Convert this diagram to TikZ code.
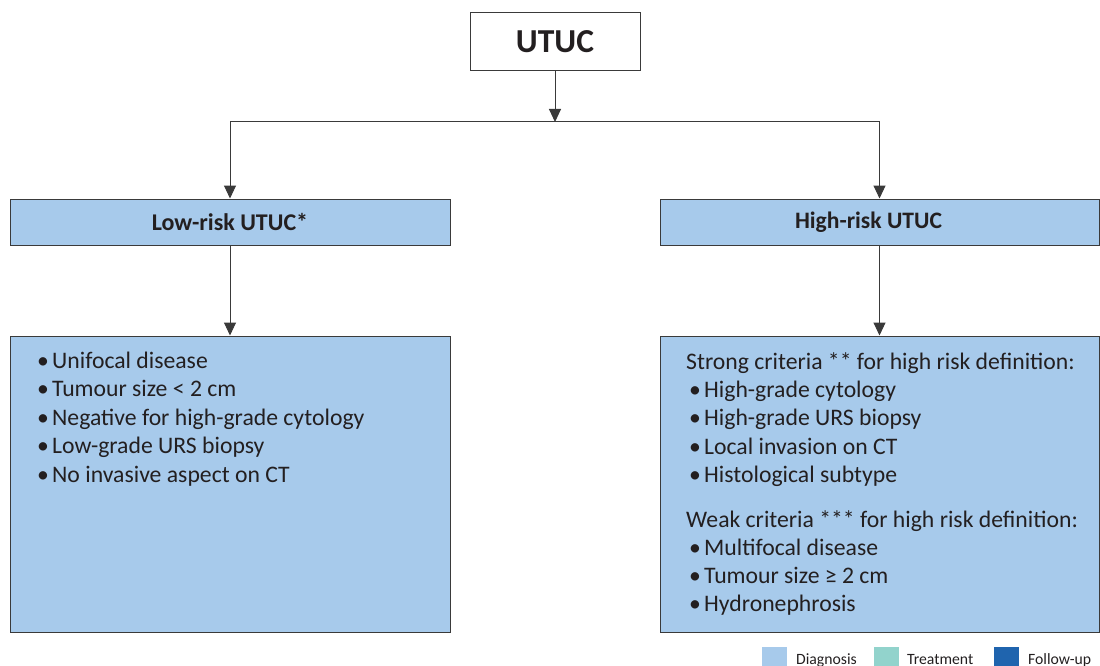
\documentclass[tikz,border=0pt]{standalone}
\usepackage{fontspec}
\setmainfont{Carlito}
\usetikzlibrary{arrows.meta}
\definecolor{diag}{HTML}{A7CAEB}
\definecolor{treat}{HTML}{92D3CC}
\definecolor{follow}{HTML}{1F64AE}
\definecolor{edgec}{HTML}{3A3A3A}
\definecolor{txt}{HTML}{231F20}
\tikzset{
  box/.style={draw=edgec, line width=1pt, inner sep=0pt, text=txt},
  conn/.style={draw=edgec, line width=1pt},
  arr/.style={conn, -{Triangle[length=13pt,width=12pt]}},
  line/.style={anchor=base west, inner sep=0pt, text=txt, font=\fontsize{23.7}{28}\selectfont},
  legsq/.style={fill=#1, draw=none, inner sep=0pt, minimum width=25pt, minimum height=19pt, anchor=north west},
  legtxt/.style={anchor=base west, inner sep=0pt, text=txt, font=\fontsize{15.7}{18}\selectfont},
}
\newcommand{\bul}{\makebox[15pt][l]{•}}
\begin{document}
\begin{tikzpicture}[x=1pt,y=-1pt]
\useasboundingbox (0,0) rectangle (1100,666);
% top
\node[box, fill=white, minimum width=170pt, minimum height=58pt, font=\fontsize{33.5}{36}\bfseries] (utuc) at (555,42) {UTUC};
\node[box, fill=diag, minimum width=440pt, minimum height=46pt, font=\fontsize{24}{27}\bfseries] (low) at (230,222) {Low-risk UTUC*};
\node[box, fill=diag, minimum width=439pt, minimum height=46pt, font=\fontsize{23.6}{27}\bfseries] (high) at (879.5,222) {\hspace*{-22pt}High-risk UTUC};
\node[box, fill=diag, minimum width=440pt, minimum height=296pt] (lowc) at (230,484) {};
\node[box, fill=diag, minimum width=439pt, minimum height=296pt] (highc) at (879.5,484) {};
% connectors
\coordinate (junc) at (555,122);
\coordinate (jl) at (low.north |- junc);
\coordinate (jr) at (high.north |- junc);
\draw[arr] (utuc.south) -- (junc);
\draw[conn] (jl) -- (jr);
\draw[arr] (jl) -- (low.north);
\draw[arr] (jr) -- (high.north);
\draw[arr] (low.south) -- (low.south |- lowc.north);
\draw[arr] (high.south) -- (high.south |- highc.north);
% left text
\node[line] (l1) at (37,368) {\bul Unifocal disease};
\node[line] (l2) at (37,396.5) {\bul Tumour size < 2 cm};
\node[line] (l3) at (37,425) {\bul Negative for high-grade cytology};
\node[line] (l4) at (37,453.5) {\bul Low-grade URS biopsy};
\node[line] (l5) at (37,482) {\bul No invasive aspect on CT};
% right text
\node[line] (r0) at (686,369) {Strong criteria ** for high risk definition:};
\node[line] (r1) at (689,397) {\bul High-grade cytology};
\node[line] (r2) at (689,425.5) {\bul High-grade URS biopsy};
\node[line] (r3) at (689,454) {\bul Local invasion on CT};
\node[line] (r4) at (689,482.5) {\bul Histological subtype};
\node[line] (w0) at (686,527) {Weak criteria *** for high risk definition:};
\node[line] (w1) at (689,555) {\bul Multifocal disease};
\node[line] (w2) at (689,583) {\bul Tumour size ≥ 2 cm};
\node[line] (w3) at (689,611) {\bul Hydronephrosis};
% legend
\node[legsq=diag] (sq1) at (762,647) {};
\node[legtxt] (t1) at (796,664) {Diagnosis};
\node[legsq=treat] (sq2) at (874,647) {};
\node[legtxt] (t2) at (907,664) {Treatment};
\node[legsq=follow] (sq3) at (994,647) {};
\node[legtxt] (t3) at (1028,664) {Follow-up};
\end{tikzpicture}
\end{document}
